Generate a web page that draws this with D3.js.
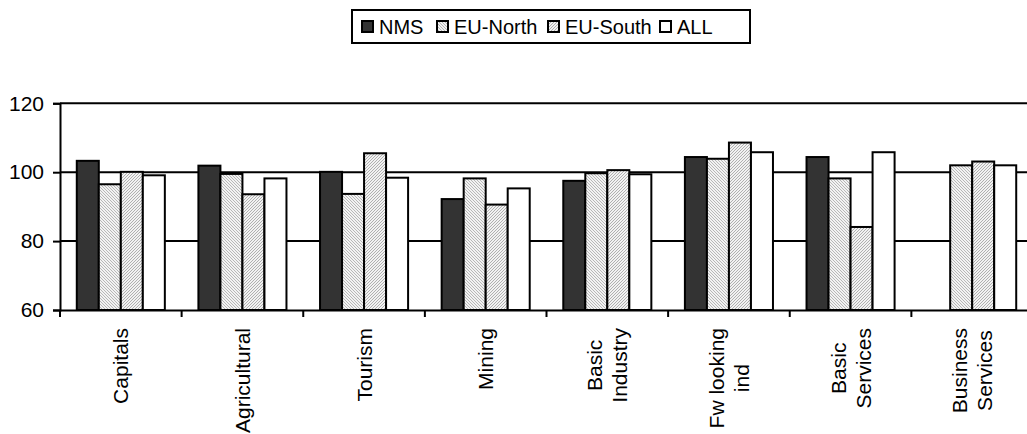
<!DOCTYPE html>
<html><head><meta charset="utf-8">
<script src="https://cdn.jsdelivr.net/npm/d3@7"></script>
<style>
body{margin:0;background:#fff;}
text{font-family:"Liberation Sans",Arial,sans-serif;fill:#000;}
</style></head>
<body><svg id="chart" width="1027" height="434"></svg>
<script>
const categories = ["Capitals","Agricultural","Tourism","Mining","Basic Industry","Fw looking ind","Basic Services","Business Services"];
const categoryLines = [["Capitals"],["Agricultural"],["Tourism"],["Mining"],["Basic","Industry"],["Fw looking","ind"],["Basic","Services"],["Business","Services"]];
const seriesNames = ["NMS","EU-North","EU-South","ALL"];
const nms      = [103.3,101.9,100.1,92.2,97.5,104.4,104.4,null];
const euNorth  = [96.5,99.5,93.7,98.2,99.7,103.9,98.2,102.0];
const euSouth  = [100.1,93.6,105.5,90.6,100.6,108.6,84.1,103.1];
const all      = [99.1,98.2,98.4,95.3,99.4,105.8,105.8,102.0];
const yTicks   = [60,80,100,120];

const seriesValues = [nms, euNorth, euSouth, all];
const fills = ["#333333","url(#patN)","url(#patS)","#ffffff"];

const svg = d3.select("#chart");
const defs = svg.append("defs");
function pattern(id, dir, col){
  const p = defs.append("pattern").attr("id",id).attr("patternUnits","userSpaceOnUse").attr("width",3).attr("height",3);
  p.append("rect").attr("width",3).attr("height",3).attr("fill","#f2f2f2");
  const d = dir>0 ? "M-1,1 l2,-2 M0,3 l3,-3 M2,4 l2,-2" : "M-1,2 l2,2 M0,0 l3,3 M2,-1 l2,2";
  p.append("path").attr("d",d).attr("stroke",col).attr("stroke-width",0.8);
}
pattern("patN",-1,"#a8a8a8");
pattern("patS",1,"#a0a0a0");

const pLeft = 60, pRight = 1033, pTop = 103.3, pBottom = 310;
const x = d3.scaleBand().domain(categories).range([pLeft,pRight]);
const bw = x.bandwidth();
const xs = d3.scaleBand().domain(seriesNames).range([bw*0.138, bw*0.862]);
const y = d3.scaleLinear().domain([60,120]).range([pBottom, pTop]);

// gridlines
svg.append("g").selectAll("line").data(yTicks.filter(t=>t>60)).join("line")
  .attr("x1",pLeft).attr("x2",pRight).attr("y1",d=>y(d)).attr("y2",d=>y(d))
  .attr("stroke","#000").attr("stroke-width",2);

// bars
const data = [];
categories.forEach((c,i)=>seriesNames.forEach((s,j)=>{
  const v = seriesValues[j][i];
  if(v!=null) data.push({c,s,v,j});
}));
svg.append("g").selectAll("rect").data(data).join("rect")
  .attr("x",d=>x(d.c)+xs(d.s)).attr("width",xs.bandwidth())
  .attr("y",d=>y(d.v)).attr("height",d=>pBottom-y(d.v))
  .attr("fill",d=>fills[d.j]).attr("stroke","#000").attr("stroke-width",2);

// y axis
const ya = svg.append("g").attr("transform",`translate(${pLeft},0)`)
  .call(d3.axisLeft(y).tickValues(yTicks).tickSize(7).tickPadding(9));
ya.select(".domain").attr("stroke","#000").attr("stroke-width",2);
ya.selectAll(".tick line").attr("stroke","#000").attr("stroke-width",2);
ya.selectAll(".tick text").attr("font-size",21).attr("font-family","Liberation Sans, Arial, sans-serif");

// x axis
const xa = svg.append("g").attr("transform",`translate(0,${pBottom})`)
  .call(d3.axisBottom(x).tickValues([]).tickSizeOuter(0));
xa.select(".domain").attr("stroke","#000").attr("stroke-width",2);
svg.append("g").selectAll("line").data(d3.range(categories.length+1)).join("line")
  .attr("x1",i=>pLeft+i*bw).attr("x2",i=>pLeft+i*bw).attr("y1",pBottom).attr("y2",pBottom+7)
  .attr("stroke","#000").attr("stroke-width",2);

// category labels
const lblG = svg.append("g");
categories.forEach((c,i)=>{
  const lines = categoryLines[i];
  const cx = x(c)+bw/2;
  const g = lblG.append("g");
  const texts = lines.map((t,k)=> g.append("text").text(t).attr("font-size",21));
  const maxW = d3.max(texts,t=>t.node().getComputedTextLength());
  const cy = 328 + maxW/2;
  texts.forEach((t,k)=>{
    const lx = cx + (k-(lines.length-1)/2)*25;
    t.attr("text-anchor","middle").attr("dominant-baseline","central")
     .attr("transform",`translate(${lx},${cy}) rotate(-90)`);
  });
});

// legend
const lg = svg.append("g");
lg.append("rect").attr("x",352).attr("y",10).attr("width",398).attr("height",33)
  .attr("fill","#fff").attr("stroke","#000").attr("stroke-width",2);
const legX = [362,437,548,660];
seriesNames.forEach((s,j)=>{
  lg.append("rect").attr("x",legX[j]).attr("y",21).attr("width",11).attr("height",11)
    .attr("fill",fills[j]).attr("stroke","#000").attr("stroke-width",2);
  lg.append("text").attr("x",legX[j]+17).attr("y",27).attr("dominant-baseline","central")
    .attr("font-size",20).text(s);
});
</script></body></html>
